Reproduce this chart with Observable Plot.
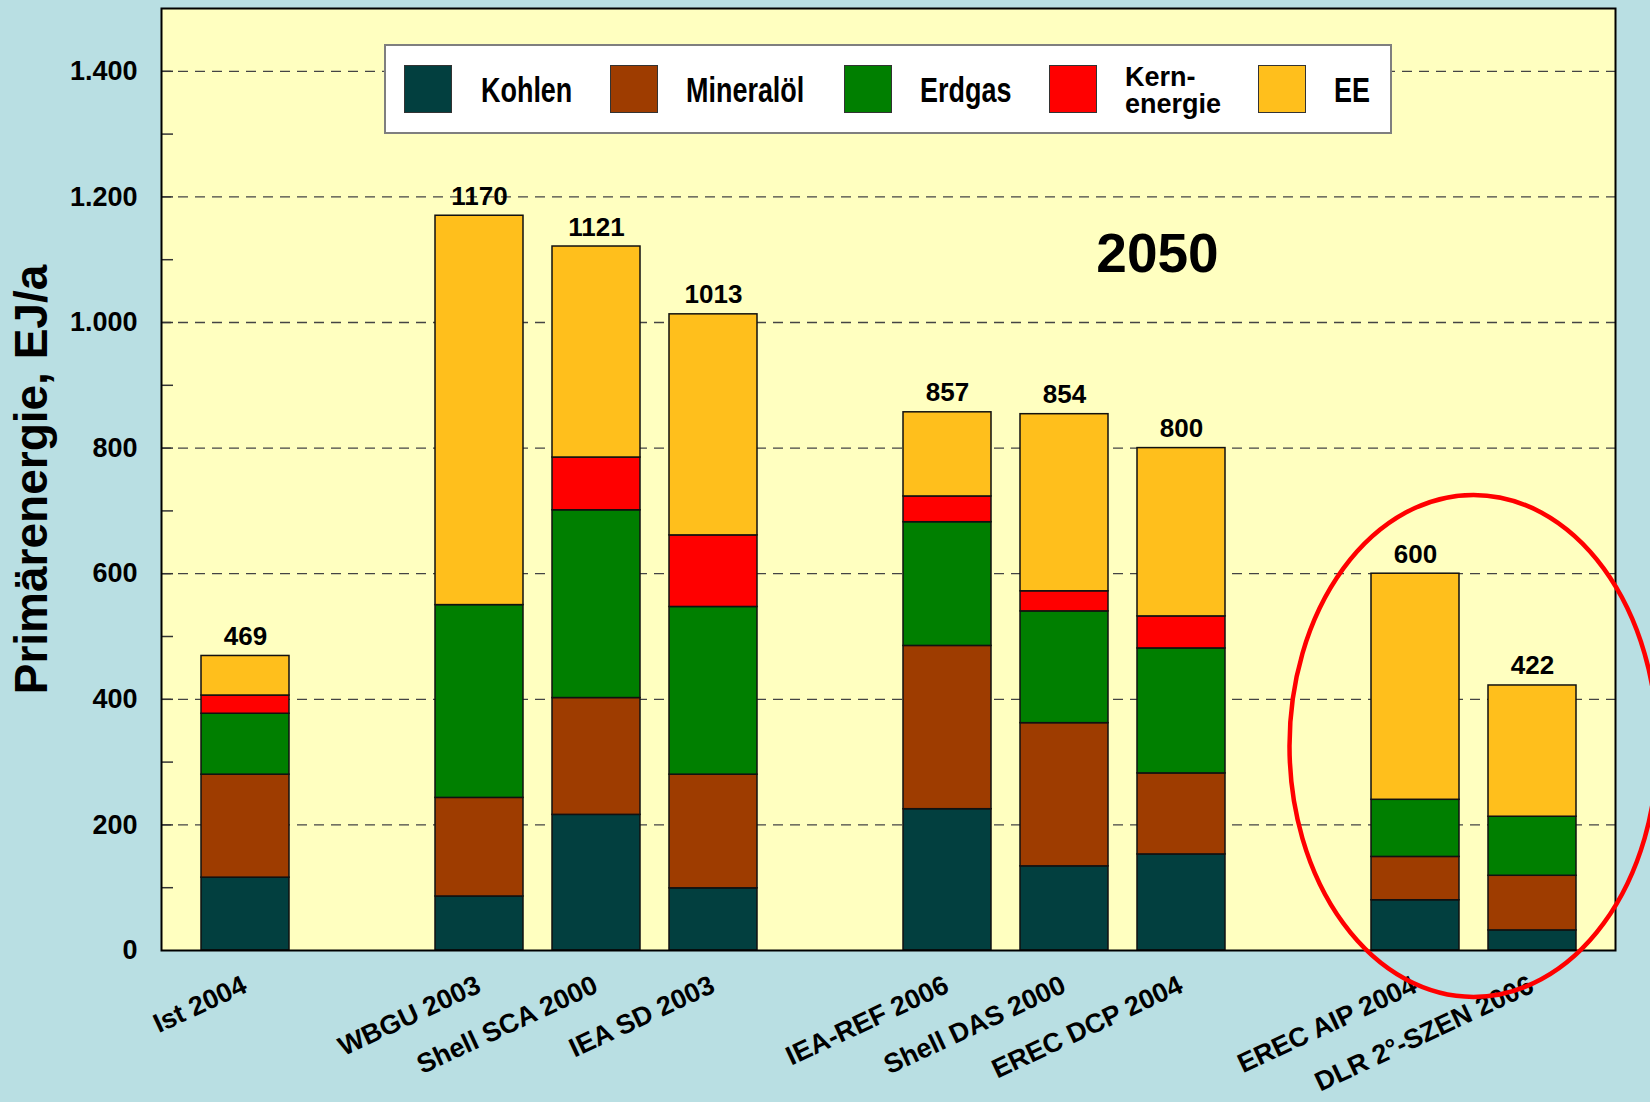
<!DOCTYPE html>
<html>
<head>
<meta charset="utf-8">
<script src="https://cdn.jsdelivr.net/npm/d3@7"></script>
<script src="https://cdn.jsdelivr.net/npm/@observablehq/plot@0.6"></script>
<style>
  html, body { margin: 0; padding: 0; background: #b9dfe3; }
  #wrap { position: relative; width: 1650px; height: 1102px; background: #b9dfe3; overflow: hidden;
          font-family: "Liberation Sans", Arial, sans-serif; font-weight: bold; }
  #wrap svg { position: absolute; left: 0; top: 0; }
  #legend { position: absolute; left: 384px; top: 44px; width: 1004px; height: 86px; background: #ffffff;
            border: 2px solid #7f7f7f; }
  .sw { position: absolute; top: 19px; width: 46px; height: 46px; border: 1px solid #333; box-sizing: content-box; }
  .lt { position: absolute; top: 26px; font-size: 35px; line-height: 35px; transform: scaleX(0.77);
        transform-origin: left center; white-space: nowrap; color: #000; }
  .lt2 { position: absolute; top: 18px; font-size: 27px; line-height: 27px; white-space: nowrap; color: #000; }
  .lt2 div { height: 27px; }
</style>
</head>
<body>
<div id="wrap"></div>
<script>
// ---------- data ----------
const scenarios = ["Ist 2004", "WBGU 2003", "Shell SCA 2000", "IEA SD 2003", "IEA-REF 2006",
                   "Shell DAS 2000", "EREC DCP 2004", "EREC AIP 2004", "DLR 2°-SZEN 2006"];
// category slots along x (empty slots create the group gaps)
const slots = ["Ist 2004", "gap1", "WBGU 2003", "Shell SCA 2000", "IEA SD 2003", "gap2",
               "IEA-REF 2006", "Shell DAS 2000", "EREC DCP 2004", "gap3", "EREC AIP 2004", "DLR 2°-SZEN 2006"];
const fuels = ["Kohlen", "Mineralöl", "Erdgas", "Kernenergie", "EE"];
const kohlen      = [116,  86, 216,  99, 225, 134, 153,  80,  32];
const mineraloel  = [164, 157, 186, 181, 260, 228, 129,  69,  87];
const erdgas      = [ 97, 307, 299, 267, 197, 178, 199,  91,  94];
const kernenergie = [ 29,   0,  84, 114,  41,  32,  51,   0,   0];
const ee          = [ 63, 620, 336, 352, 134, 282, 268, 360, 209];
const totals      = [469, 1170, 1121, 1013, 857, 854, 800, 600, 422];
const yTicks = [0, 200, 400, 600, 800, 1000, 1200, 1400];
const gridTicks = [200, 400, 600, 800, 1000, 1200, 1400];
const minorTicks = [100, 200, 300, 400, 500, 600, 700, 800, 900, 1000, 1100, 1200, 1300, 1400];
const colors = ["#023f3f", "#9e3c00", "#007f00", "#ff0000", "#ffbf1c"];
const yTitle = "Primärenergie, EJ/a";
const yearLabel = "2050";
const legendLabels = ["Kohlen", "Mineralöl", "Erdgas", "Kern-\nenergie", "EE"];

// ---------- build table ----------
const series = [kohlen, mineraloel, erdgas, kernenergie, ee];
const rows = [];
scenarios.forEach((s, i) => {
  fuels.forEach((f, j) => {
    if (series[j][i] > 0) rows.push({scenario: s, fuel: f, value: series[j][i]});
  });
});
const totRows = scenarios.map((s, i) => ({scenario: s, total: totals[i]}));

const W = 1650, H = 1102, ML = 161, MR = 35, MT = 8, MB = 152;
const font = "Liberation Sans, Arial, sans-serif";

const plot = Plot.plot({
  width: W, height: H,
  marginLeft: ML, marginRight: MR, marginTop: MT, marginBottom: MB,
  style: {background: "transparent", fontFamily: font, overflow: "visible"},
  x: {type: "band", domain: slots, paddingInner: 0.25, paddingOuter: 0.325, axis: null},
  y: {domain: [0, 1500], axis: null},
  color: {domain: fuels, range: colors},
  marks: [
    Plot.frame({fill: "#ffffc0", stroke: "none"}),
    Plot.ruleY(gridTicks, {stroke: "#444", strokeWidth: 1.3, strokeDasharray: "10,7"}),
    Plot.ruleY(minorTicks, {stroke: "#333", strokeWidth: 1.5, insetRight: (W - ML - MR) - 12}),
    Plot.barY(rows, {x: "scenario", y: "value", fill: "fuel", stroke: "#111", strokeWidth: 1.5, order: fuels}),
    Plot.text(totRows, {x: "scenario", y: "total", text: d => String(d.total), dy: -11,
                        lineAnchor: "bottom", fontSize: 26, fontWeight: "bold", fill: "#000"}),
    Plot.axisY({ticks: yTicks, tickSize: 0, tickPadding: 24, label: null,
                tickFormat: d => d3.format(",")(d).replace(/,/g, "."),
                fontSize: 27, fontWeight: "bold", fill: "#000"}),
    Plot.text(scenarios, {x: d => d, frameAnchor: "bottom", rotate: -25, textAnchor: "end",
                          lineAnchor: "bottom", dx: 3, dy: 41, fontSize: 27, fontWeight: "bold", fill: "#000"}),
    Plot.text([yTitle], {frameAnchor: "left", dx: -129, rotate: -90, textAnchor: "middle", lineAnchor: "middle",
                         fontSize: 46, fontWeight: "bold", fill: "#000"}),
    Plot.text([yearLabel], {frameAnchor: "top", dx: 269, dy: 263, textAnchor: "middle", lineAnchor: "bottom",
                            fontSize: 55, fontWeight: "bold", fill: "#000"}),
    Plot.frame({stroke: "#000", strokeWidth: 2})
  ]
});

const wrap = document.getElementById("wrap");
wrap.appendChild(plot);

// red ellipse annotation around the last two scenarios, positioned via the plot's scales
const xs = plot.scale("x"), ys = plot.scale("y");
const cx = (xs.apply("EREC AIP 2004") + xs.apply("DLR 2°-SZEN 2006") + xs.bandwidth) / 2;
const cy = ys.apply(325);
d3.select(plot).append("ellipse")
  .attr("cx", cx).attr("cy", cy).attr("rx", 184).attr("ry", 251)
  .attr("fill", "none").attr("stroke", "#ff0000").attr("stroke-width", 4.5);

// legend (inside the plot area, as in the original)
const legend = document.createElement("div");
legend.id = "legend";
const swX = [18, 224, 458, 663, 872];
const txX = [95, 300, 534, 739, 948];
fuels.forEach((f, i) => {
  const sw = document.createElement("div");
  sw.className = "sw";
  sw.style.left = swX[i] + "px";
  sw.style.background = colors[i];
  legend.appendChild(sw);
  const t = document.createElement("div");
  const lab = legendLabels[i];
  if (lab.includes("\n")) {
    t.className = "lt2";
    lab.split("\n").forEach((line) => {
      const d = document.createElement("div");
      d.textContent = line;
      t.appendChild(d);
    });
  } else {
    t.className = "lt";
    t.textContent = lab;
  }
  t.style.left = txX[i] + "px";
  legend.appendChild(t);
});
wrap.appendChild(legend);
</script>
</body>
</html>
